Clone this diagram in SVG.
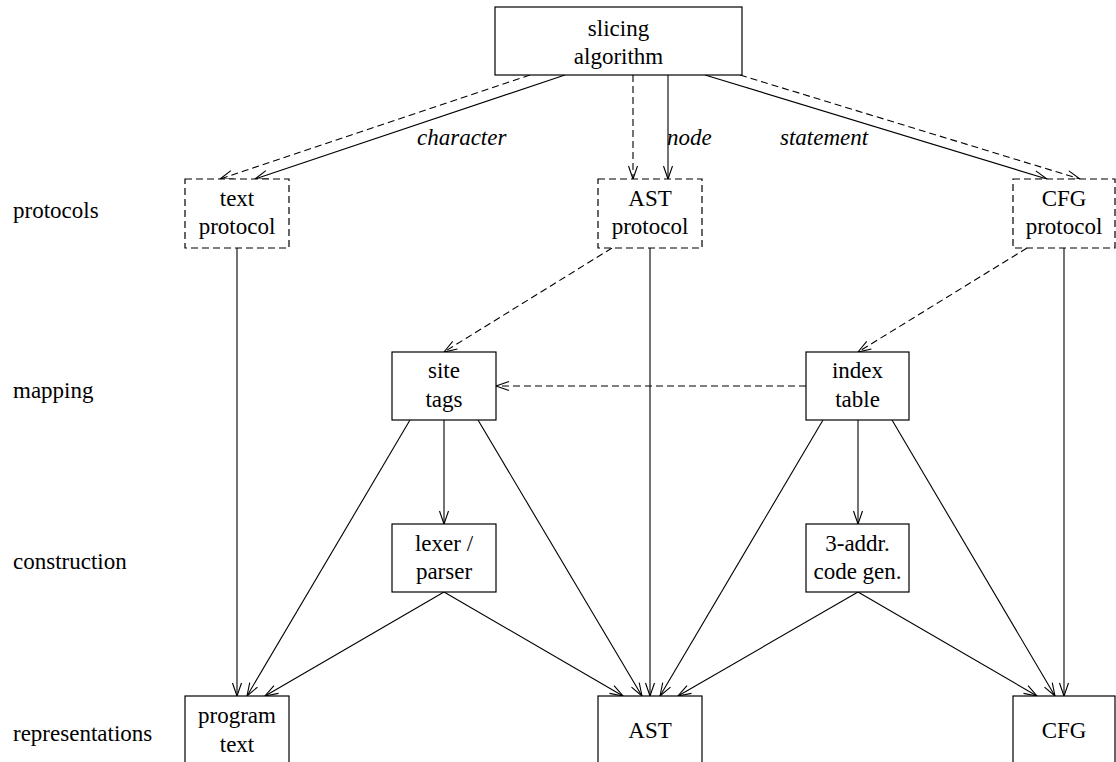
<svg xmlns="http://www.w3.org/2000/svg" width="1116" height="762" viewBox="0 0 1116 762" font-family="'Liberation Serif', 'DejaVu Serif', 'Times New Roman', Times, serif">
  <style>
    text { font-family: 'Liberation Serif', 'DejaVu Serif', 'Times New Roman', Times, serif; font-size: 23px; fill: #000; }
    .c { text-anchor: middle; }
    .i { font-style: italic; }
    .box { fill: #fff; stroke: #000; stroke-width: 1.2; }
    .dbox { fill: #fff; stroke: #000; stroke-width: 1.2; stroke-dasharray: 7 4; }
    .e { fill: none; stroke: #000; stroke-width: 1.1; marker-end: url(#arr); }
    .d { stroke-dasharray: 7 4; }
  </style>
  <defs>
    <marker id="arr" markerUnits="userSpaceOnUse" markerWidth="16" markerHeight="12" viewBox="-14 -6 16 12" refX="0" refY="0" orient="auto">
      <path d="M-13,-4.5 L0,0 L-13,4.5" fill="none" stroke="#000" stroke-width="1.1"/>
    </marker>
  </defs>

  <!-- layer labels -->
  <g id="layers">
    <text x="13" y="218">protocols</text>
    <text x="13" y="398">mapping</text>
    <text x="13" y="569">construction</text>
    <text x="13" y="741">representations</text>
  </g>

  <!-- connectors -->
  <g id="edges">
    <line class="e" x1="565" y1="75" x2="255" y2="179"/>
    <line class="e d" x1="530" y1="75" x2="220" y2="179"/>
    <line class="e d" x1="633" y1="75" x2="633" y2="179"/>
    <line class="e" x1="668" y1="75" x2="668" y2="179"/>
    <line class="e" x1="705" y1="75" x2="1047" y2="179"/>
    <line class="e d" x1="740" y1="75" x2="1080" y2="179"/>

    <line class="e" x1="237" y1="248" x2="237" y2="696"/>
    <line class="e" x1="650" y1="248" x2="650" y2="696"/>
    <line class="e" x1="1064" y1="248" x2="1064" y2="696"/>

    <line class="e d" x1="612" y1="248" x2="444" y2="352"/>
    <line class="e d" x1="1027" y1="248" x2="858" y2="352"/>
    <line class="e d" x1="806" y1="386" x2="496" y2="386"/>

    <line class="e" x1="444" y1="420" x2="444" y2="524"/>
    <line class="e" x1="410" y1="420" x2="247" y2="696"/>
    <line class="e" x1="478" y1="420" x2="642" y2="696"/>
    <line class="e" x1="444" y1="592" x2="265" y2="696"/>
    <line class="e" x1="444" y1="592" x2="623" y2="696"/>

    <line class="e" x1="858" y1="420" x2="858" y2="524"/>
    <line class="e" x1="823" y1="420" x2="660" y2="696"/>
    <line class="e" x1="892" y1="420" x2="1055" y2="696"/>
    <line class="e" x1="858" y1="592" x2="678" y2="696"/>
    <line class="e" x1="858" y1="592" x2="1037" y2="696"/>
  </g>

  <!-- edge labels -->
  <g id="edge-labels">
    <text class="i" x="417" y="145">character</text>
    <text class="i" x="667" y="145">node</text>
    <text class="i" x="780" y="145">statement</text>
  </g>

  <g id="slicing-algorithm">
    <rect class="box" x="495" y="7" width="247" height="68"/>
    <text class="c" x="618.5" y="36">slicing</text>
    <text class="c" x="618.5" y="64">algorithm</text>
  </g>

  <g id="text-protocol">
    <rect class="dbox" x="185" y="179" width="104" height="69"/>
    <text class="c" x="237" y="206">text</text>
    <text class="c" x="237" y="234">protocol</text>
  </g>
  <g id="ast-protocol">
    <rect class="dbox" x="598" y="179" width="104" height="69"/>
    <text class="c" x="650" y="206">AST</text>
    <text class="c" x="650" y="234">protocol</text>
  </g>
  <g id="cfg-protocol">
    <rect class="dbox" x="1013" y="179" width="102" height="69"/>
    <text class="c" x="1064" y="206">CFG</text>
    <text class="c" x="1064" y="234">protocol</text>
  </g>

  <g id="site-tags">
    <rect class="box" x="392" y="352" width="104" height="68"/>
    <text class="c" x="444" y="378">site</text>
    <text class="c" x="444" y="407">tags</text>
  </g>
  <g id="index-table">
    <rect class="box" x="806" y="352" width="103" height="68"/>
    <text class="c" x="857.5" y="378">index</text>
    <text class="c" x="857.5" y="407">table</text>
  </g>

  <g id="lexer-parser">
    <rect class="box" x="392" y="524" width="104" height="68"/>
    <text class="c" x="444" y="551">lexer /</text>
    <text class="c" x="444" y="579">parser</text>
  </g>
  <g id="code-gen">
    <rect class="box" x="806" y="524" width="103" height="68"/>
    <text class="c" x="857.5" y="551">3-addr.</text>
    <text class="c" x="857.5" y="579">code gen.</text>
  </g>

  <g id="program-text">
    <rect class="box" x="185" y="696" width="104" height="80"/>
    <text class="c" x="237" y="723">program</text>
    <text class="c" x="237" y="752">text</text>
  </g>
  <g id="ast">
    <rect class="box" x="598" y="696" width="104" height="80"/>
    <text class="c" x="650" y="738">AST</text>
  </g>
  <g id="cfg">
    <rect class="box" x="1013" y="696" width="102" height="80"/>
    <text class="c" x="1064" y="738">CFG</text>
  </g>
</svg>
